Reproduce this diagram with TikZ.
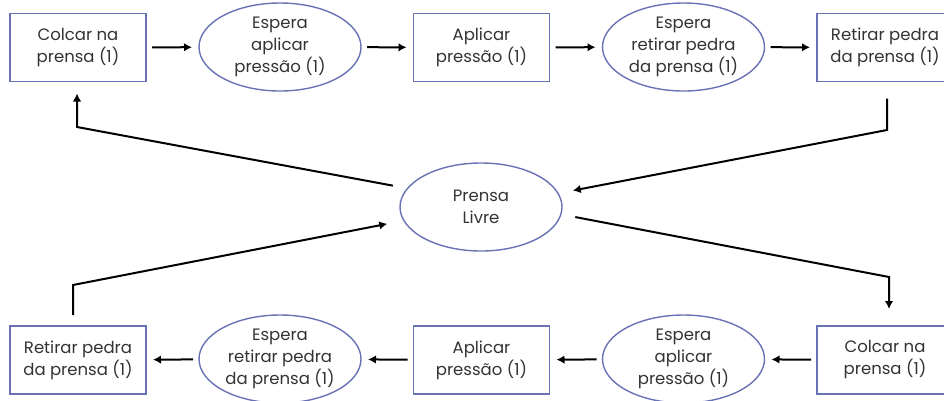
\documentclass[tikz,border=0pt]{standalone}
\usepackage{fontspec}
\setmainfont{Poppins}
\usetikzlibrary{shapes.geometric,arrows.meta}
\definecolor{frame}{HTML}{6A72B6}
\definecolor{ink}{HTML}{333333}
\tikzset{
  lbl/.style={text=ink, font=\fontsize{16.5}{22}\selectfont, align=center, inner sep=0pt, outer sep=0pt},
  taskbox/.style={lbl, draw=frame, line width=1.4pt, rectangle, minimum width=136pt, minimum height=68pt},
  waitell/.style={lbl, draw=frame, line width=1.4pt, ellipse, minimum width=162pt, minimum height=88pt},
  flow/.style={draw=black, line width=2pt, -{Latex[length=8pt,width=8.5pt]}},
}
\begin{document}
\begin{tikzpicture}[x=1pt,y=-1pt]
  \useasboundingbox (0,0) rectangle (944,400);
  \fill[white] (0,0) rectangle (944,400);

  % upper cycle
  \node[taskbox] (t1) at (78,47.5) {Colcar na\\prensa (1)};
  \node[waitell] (t2) at (280,47) {Espera\\aplicar\\pressão (1)};
  \node[taskbox] (t3) at (481.5,47.5) {Aplicar\\pressão (1)};
  \node[waitell] (t4) at (683.5,47) {Espera\\retirar pedra\\da prensa (1)};
  \node[taskbox] (t5) at (885,47.5) {Retirar pedra\\da prensa (1)};

  % shared resource
  \node[waitell] (pl) at (481,207) {Prensa\\Livre};

  % lower cycle
  \node[taskbox] (b1) at (885,360) {Colcar na\\prensa (1)};
  \node[waitell] (b2) at (683.5,359) {Espera\\aplicar\\pressão (1)};
  \node[taskbox] (b3) at (481.5,360) {Aplicar\\pressão (1)};
  \node[waitell] (b4) at (280,359) {Espera\\retirar pedra\\da prensa (1)};
  \node[taskbox] (b5) at (78,360) {Retirar pedra\\da prensa (1)};

  % bends of the return paths
  \coordinate (cul) at (77,127);
  \coordinate (cur) at (887,130);
  \coordinate (cll) at (73,285);
  \coordinate (clr) at (889,277);

  % sequence arrows
  \foreach \a/\b in {t1/t2,t2/t3,t3/t4,t4/t5,b1/b2,b2/b3,b3/b4,b4/b5}
    \draw[flow, shorten <=6pt, shorten >=7pt] (\a) -- (\b);

  % press released and taken back
  \draw[flow, shorten >=15pt] ([yshift=-17pt]cur |- t5.south) -- (cur) -- (pl.10.5);
  \draw[flow, shorten >=12pt] (pl.166) ++(-14.5,-3) -- (cul) -- (cul |- t1.south);
  \draw[flow, shorten >=17pt] ([yshift=11pt]cll |- b5.north) -- (cll) -- (pl.190.8);
  \draw[flow, shorten >=17pt] (pl.-6.7) ++(14.8,1.7) -- (clr) -- (clr |- b1.north);
\end{tikzpicture}
\end{document}
